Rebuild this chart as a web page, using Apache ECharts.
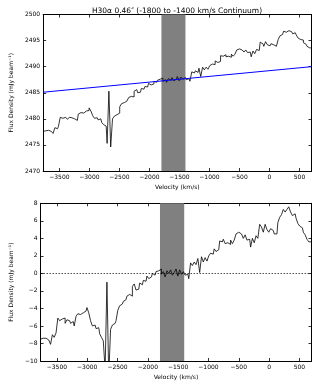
<!DOCTYPE html>
<html>
<head>
<meta charset="utf-8">
<script src="https://cdn.jsdelivr.net/npm/echarts@6/dist/echarts.min.js"></script>
<style>html,body{margin:0;padding:0;background:#fff}#c{width:316px;height:382px}</style>
</head>
<body>
<div id="c"></div>
<script>
const velocity = [-3770,-3740,-3710,-3680,-3650,-3620,-3590,-3560,-3530,-3500,
-3470,-3440,-3410,-3380,-3350,-3320,-3290,-3260,-3230,-3200,
-3170,-3140,-3110,-3080,-3050,-3020,-2990,-2960,-2930,-2900,
-2870,-2840,-2810,-2780,-2750,-2720,-2690,-2660,-2630,-2600,
-2570,-2540,-2510,-2480,-2450,-2420,-2390,-2360,-2330,-2300,
-2270,-2240,-2210,-2180,-2150,-2120,-2090,-2060,-2030,-2000,
-1970,-1940,-1910,-1880,-1850,-1820,-1790,-1760,-1730,-1700,
-1670,-1640,-1610,-1580,-1550,-1520,-1490,-1460,-1430,-1400,
-1370,-1340,-1310,-1280,-1250,-1220,-1190,-1160,-1130,-1100,
-1070,-1040,-1010,-980,-950,-920,-890,-860,-830,-800,
-770,-740,-710,-680,-650,-620,-590,-560,-530,-500,
-470,-440,-410,-380,-350,-320,-290,-260,-230,-200,
-170,-140,-110,-80,-50,-20,10,40,70,100,
130,160,190,220,250,280,310,340,370,400,
430,460,490,520,550,580,610,640,670,700];

const fluxTop = [2477.6,2477.7,2477.6,2477.8,2477.6,2477.8,2477.2,2478.3,2478.1,2478.6,
2480.3,2480.1,2480.3,2480.4,2479.9,2480.3,2480.2,2480.0,2480.2,2479.7,
2480.9,2481.2,2481.1,2481.4,2481.5,2481.6,2482.1,2481.5,2480.6,2480.1,
2480.2,2479.8,2480.0,2479.3,2478.9,2478.6,2475.3,2485.3,2474.6,2480.0,
2480.5,2480.8,2481.1,2482.3,2482.9,2483.1,2483.4,2483.7,2484.1,2484.3,
2484.2,2485.3,2485.6,2485.0,2485.1,2485.8,2485.7,2486.2,2486.1,2486.8,
2486.5,2486.7,2487.2,2487.0,2487.4,2487.6,2487.8,2487.2,2487.5,2487.0,
2487.7,2487.4,2487.9,2487.3,2487.6,2488.1,2487.3,2488.0,2487.6,2487.9,
2487.5,2487.7,2487.2,2489.0,2488.8,2489.2,2488.9,2489.7,2488.1,2489.9,
2489.4,2489.9,2489.5,2490.2,2490.5,2490.4,2491.1,2490.8,2491.0,2492.1,
2492.0,2492.3,2491.9,2492.0,2491.8,2492.4,2492.0,2492.4,2493.2,2493.4,
2493.2,2493.1,2492.8,2493.2,2492.7,2492.8,2491.9,2493.0,2492.5,2493.3,
2493.1,2494.7,2494.4,2493.9,2494.8,2494.2,2494.0,2494.4,2494.2,2493.9,
2493.9,2495.2,2495.9,2496.2,2496.8,2496.6,2496.9,2497.2,2496.7,2496.3,
2496.5,2496.1,2495.5,2495.2,2495.1,2494.6,2494.3,2493.9,2493.6,2493.6];

const residual = [-7.5,-7.4,-7.6,-7.4,-7.6,-7.5,-8.1,-7.0,-7.3,-6.8,
-5.1,-5.4,-5.2,-5.1,-5.7,-5.3,-5.4,-5.7,-5.5,-6.0,
-4.9,-4.6,-4.7,-4.5,-4.4,-4.3,-3.9,-4.5,-5.4,-6.0,
-5.9,-6.3,-6.2,-6.9,-7.3,-7.7,-11.0,-1.0,-11.8,-6.4,
-5.9,-5.7,-5.4,-4.2,-3.7,-3.5,-3.2,-3.0,-2.6,-2.4,
-2.6,-1.5,-1.2,-1.9,-1.8,-1.1,-1.3,-0.8,-0.9,-0.3,
-0.6,-0.4,0.0,-0.2,0.2,0.3,0.5,-0.1,0.2,-0.4,
0.3,0.0,0.4,-0.2,0.1,0.5,-0.3,0.4,-0.1,0.2,
-0.2,-0.1,-0.6,1.2,0.9,1.3,1.0,1.7,0.1,1.9,
1.3,1.8,1.4,2.0,2.3,2.2,2.8,2.5,2.7,3.7,
3.6,3.9,3.4,3.5,3.3,3.8,3.4,3.8,4.5,4.7,
4.5,4.3,4.0,4.4,3.8,3.9,3.0,4.0,3.5,4.3,
4.0,5.6,5.3,4.7,5.6,5.0,4.7,5.1,4.9,4.5,
4.5,5.8,6.4,6.7,7.3,7.0,7.3,7.6,7.0,6.6,
6.8,6.3,5.7,5.4,5.2,4.7,4.4,3.9,3.6,3.6];

const continuumVel = [-3770, 700];
const continuumFlux = [2485.1, 2490.0];
const bandRange = [-1800, -1400];
const xTicks = [-3500,-3000,-2500,-2000,-1500,-1000,-500,0,500];
const titleText = 'H30\u03b1 0.46\u2033 (-1800 to -1400 km/s Continuum)';
const yLabel = 'Flux Density (mJy beam\u207b\u00b9)';
const xLabel = 'Velocity (km/s)';

const FONT = 'DejaVu Sans';
const fmt = v => String(v).replace('-', '\u2212');

function xAxes(gi) {
  const base = {
    type: 'value', gridIndex: gi, min: -3770, max: 700,
    splitLine: {show: false},
    axisLine: {show: true, onZero: false, lineStyle: {color: '#000', width: 1}},
    axisTick: {show: true, inside: true, length: 3, customValues: xTicks, lineStyle: {color: '#000', width: 0.8}},
  };
  return [
    Object.assign({}, base, {
      position: 'bottom',
      name: xLabel, nameLocation: 'middle', nameGap: 13,
      nameTextStyle: {fontFamily: FONT, fontSize: 6, color: '#000'},
      axisLabel: {show: true, customValues: xTicks, formatter: fmt, fontFamily: FONT, fontSize: 6, color: '#000', margin: 3}
    }),
    Object.assign({}, base, {position: 'top', axisLabel: {show: false}})
  ];
}
function yAxes(gi, min, max, interval) {
  const base = {
    type: 'value', gridIndex: gi, min: min, max: max, interval: interval,
    splitLine: {show: false},
    axisLine: {show: true, onZero: false, lineStyle: {color: '#000', width: 1}},
    axisTick: {show: true, inside: true, length: 3, lineStyle: {color: '#000', width: 0.8}},
  };
  return [
    Object.assign({}, base, {
      position: 'left',
      name: yLabel, nameLocation: 'middle', nameGap: 20, nameRotate: 90,
      nameTextStyle: {fontFamily: FONT, fontSize: 6, color: '#000'},
      axisLabel: {show: true, formatter: fmt, fontFamily: FONT, fontSize: 6, color: '#000', margin: 3}
    }),
    Object.assign({}, base, {position: 'right', axisLabel: {show: false}})
  ];
}

const topData = velocity.map((v, i) => [v, fluxTop[i]]);
const resData = velocity.map((v, i) => [v, residual[i]]);
const contData = continuumVel.map((v, i) => [v, continuumFlux[i]]);

const bandArea = {
  silent: true,
  itemStyle: {color: '#808080', opacity: 1},
  data: [[{xAxis: bandRange[0]}, {xAxis: bandRange[1]}]]
};

const chart = echarts.init(document.getElementById('c'), null, {renderer: 'canvas'});
chart.setOption({
  animation: false,
  title: {
    text: titleText, left: 172, top: 2, textAlign: 'center',
    textStyle: {fontFamily: FONT, fontSize: 7.5, fontWeight: 'normal', color: '#000'}
  },
  grid: [
    {left: 32, top: 14.5, width: 279.5, height: 156.5, containLabel: false},
    {left: 32, top: 203.3, width: 279.5, height: 157.7, containLabel: false}
  ],
  xAxis: [...xAxes(0), ...xAxes(1)],
  yAxis: [...yAxes(0, 2470, 2500, 5), ...yAxes(1, -10, 8, 2)],
  series: [
    {type: 'line', xAxisIndex: 0, yAxisIndex: 0, data: [], z: 1, markArea: bandArea},
    {type: 'line', xAxisIndex: 0, yAxisIndex: 0, data: topData, step: 'middle', showSymbol: false, z: 3,
     lineStyle: {color: '#000', width: 0.8}},
    {type: 'line', xAxisIndex: 0, yAxisIndex: 0, data: contData, showSymbol: false, z: 4,
     lineStyle: {color: '#0000ff', width: 1}},
    {type: 'line', xAxisIndex: 2, yAxisIndex: 2, data: [], z: 1, markArea: bandArea},
    {type: 'line', xAxisIndex: 2, yAxisIndex: 2, data: resData, step: 'middle', showSymbol: false, z: 3,
     lineStyle: {color: '#000', width: 0.8},
     markLine: {silent: true, symbol: 'none', label: {show: false},
       lineStyle: {color: '#000', type: [1.5, 1.5], width: 0.7},
       data: [{yAxis: 0}]}}
  ]
});
</script>
</body>
</html>
